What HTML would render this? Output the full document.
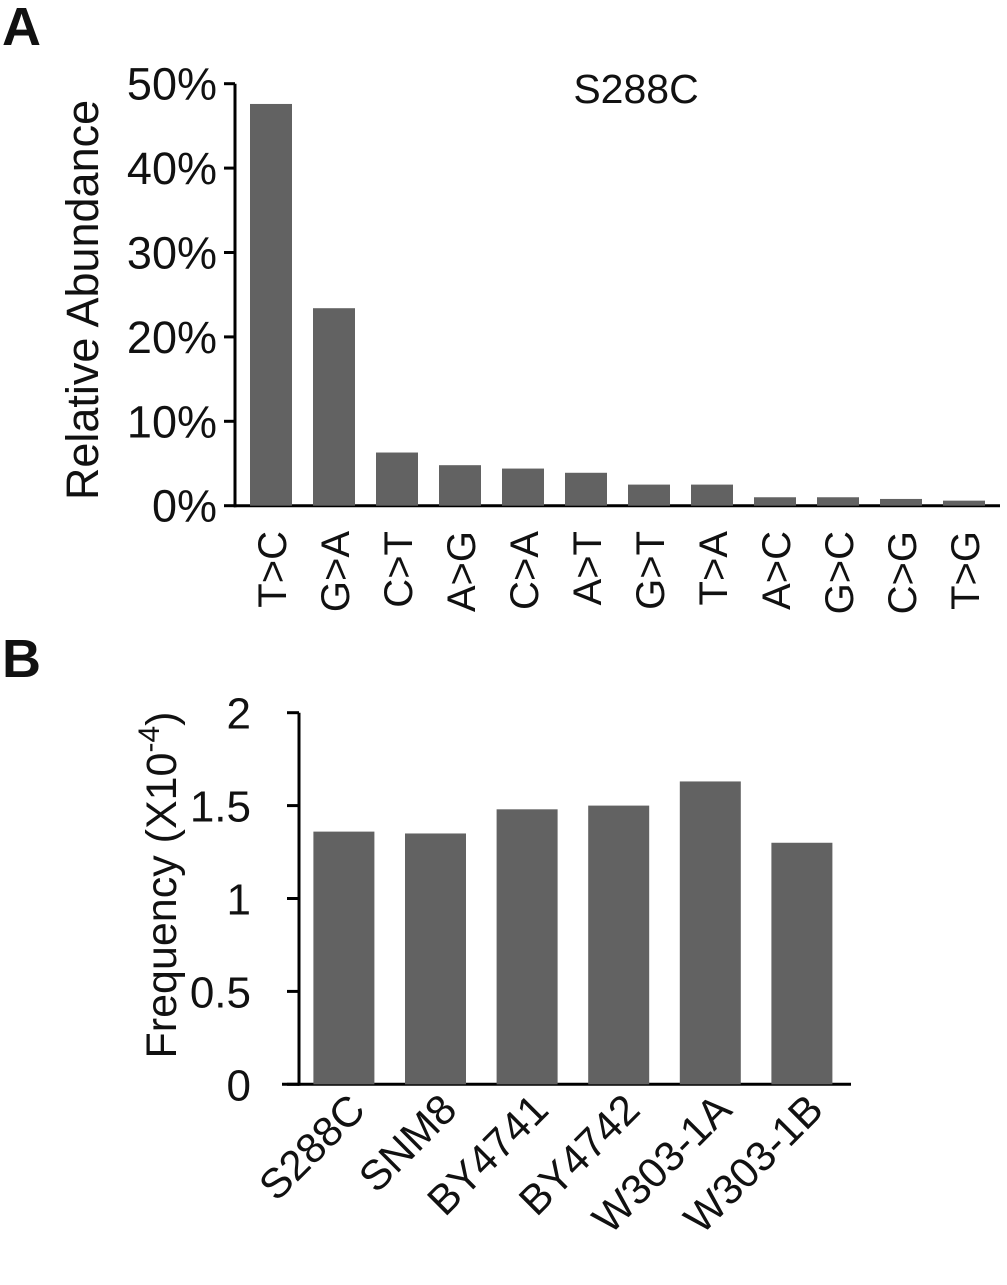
<!DOCTYPE html>
<html><head><meta charset="utf-8"><style>
html,body{margin:0;padding:0;background:#fff;}
svg text{font-family:"Liberation Sans",Arial,sans-serif;fill:#111;}
</style></head><body>
<svg id="fig" width="1007" height="1280" viewBox="0 0 1007 1280" xmlns="http://www.w3.org/2000/svg">
<text x="2" y="45" font-size="54" font-weight="bold">A</text>
<text x="2" y="677" font-size="54" font-weight="bold">B</text>
<text x="636" y="103" font-size="41" text-anchor="middle">S288C</text>
<text transform="translate(98,300) rotate(-90)" font-size="45" text-anchor="middle">Relative Abundance</text>
<text transform="translate(176,885) rotate(-90)" font-size="43" text-anchor="middle">Frequency (X10<tspan dy="-17" font-size="30">-4</tspan><tspan dy="17">)</tspan></text>
<g id="chartA"></g>
<g id="chartB"></g>
</svg>
<script>
const catsA = ["T>C","G>A","C>T","A>G","C>A","A>T","G>T","T>A","A>C","G>C","C>G","T>G"];
const valsA = [47.6,23.4,6.3,4.8,4.4,3.9,2.5,2.5,1.0,1.0,0.8,0.6];
const ticksA = [0,10,20,30,40,50];
const catsB = ["S288C","SNM8","BY4741","BY4742","W303-1A","W303-1B"];
const valsB = [1.36,1.35,1.48,1.50,1.63,1.30];
const ticksB = [0,0.5,1,1.5,2];
const tickLabelsB = ["0","0.5","1","1.5","2"];

const NS="http://www.w3.org/2000/svg";
function mk(tag,attrs,parent,txt){const e=document.createElementNS(NS,tag);for(const k in attrs)e.setAttribute(k,attrs[k]);if(txt!==undefined)e.textContent=txt;parent.appendChild(e);return e;}

// Panel A
const gA=document.getElementById('chartA');
const yA=v=>505.7-v*8.44;
const xA=i=>250+i*63;
mk('line',{x1:235,y1:yA(50),x2:235,y2:yA(0)+1.5,stroke:'#000','stroke-width':3},gA);
mk('line',{x1:234,y1:yA(0),x2:1000,y2:yA(0),stroke:'#000','stroke-width':3},gA);
ticksA.forEach(t=>{
  const l=mk('line',{x1:224,y1:yA(t),x2:235,y2:yA(t),stroke:'#000','stroke-width':3},gA);
  
  
  const tx=mk('text',{x:217,y:yA(t)+16,'font-size':45,'text-anchor':'end'},gA,t+'%');
  
  
});
valsA.forEach((v,i)=>{
  const r=mk('rect',{x:xA(i),y:yA(v),width:42,height:yA(0)-yA(v),fill:'#626262'},gA);
  
  
  const tx=mk('text',{transform:`translate(${xA(i)+36},531) rotate(-90)`,'font-size':40,'text-anchor':'end'},gA,catsA[i]);
  
  
});

// Panel B
const gB=document.getElementById('chartB');
const yB=v=>1084.3-v*185.8;
const xB=i=>313.4+i*91.6;
mk('line',{x1:299,y1:yB(2),x2:299,y2:yB(0)+1.5,stroke:'#000','stroke-width':3},gB);
mk('line',{x1:282,y1:yB(0),x2:851,y2:yB(0),stroke:'#000','stroke-width':3},gB);
ticksB.forEach((t,i)=>{
  const l=mk('line',{x1:287,y1:yB(t),x2:299,y2:yB(t),stroke:'#000','stroke-width':3},gB);
  
  
  const tx=mk('text',{x:251,y:yB(t)+16,'font-size':44,'text-anchor':'end'},gB,tickLabelsB[i]);
  
  
});
valsB.forEach((v,i)=>{
  const r=mk('rect',{x:xB(i),y:yB(v),width:61,height:yB(0)-yB(v),fill:'#626262'},gB);
  
  
  const tx=mk('text',{transform:`translate(${xB(i)+54},1112) rotate(-45)`,'font-size':42,'text-anchor':'end'},gB,catsB[i]);
  
  
});
</script>
</body></html>
